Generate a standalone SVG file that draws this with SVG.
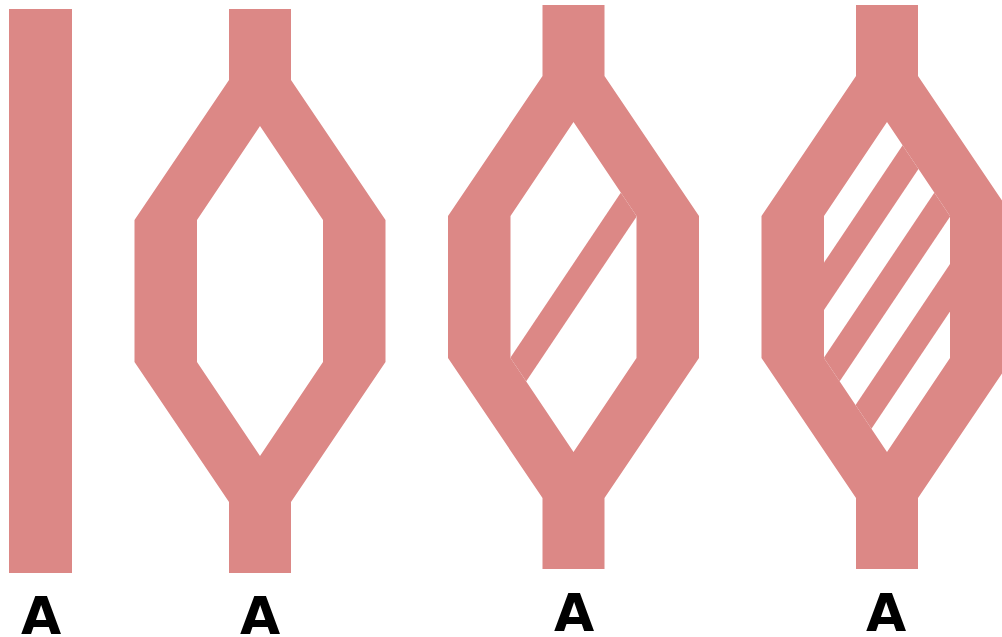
<svg xmlns="http://www.w3.org/2000/svg" width="1002" height="637" viewBox="0 0 1002 637">
  <style>
    .body { fill: #DC8886; fill-rule: evenodd; stroke: none; }
    .label { font-family: "DejaVu Sans", "Liberation Sans", sans-serif; font-weight: bold; font-size: 52px; fill: #000000; text-anchor: middle; }
  </style>
  <defs>
    <clipPath id="hole3">
      <polygon points="573.5,122 636.5,216 636.5,358 573.5,452 510.5,358 510.5,216"/>
    </clipPath>
    <clipPath id="hole4">
      <polygon points="887,122 950,216 950,358 887,452 824,358 824,216"/>
    </clipPath>
  </defs>
  <rect width="1002" height="637" fill="#FFFFFF"/>

  <g id="node1">
    <rect class="body" x="9" y="9" width="63" height="564"/>
    <text class="label" x="41" y="634">A</text>
  </g>

  <g id="node2">
    <path class="body" d="M229,9 L291,9 L291,80 L385.5,220 L385.5,362 L291,502 L291,573 L229,573 L229,502 L134.5,362 L134.5,220 L229,80 Z M260,126 L197,220 L197,362 L260,456 L323,362 L323,220 Z"/>
    <text class="label" x="260" y="634">A</text>
  </g>

  <g id="node3">
    <path class="body" d="M542.5,5 L604.5,5 L604.5,76 L699,216 L699,358 L604.5,498 L604.5,569 L542.5,569 L542.5,498 L448,358 L448,216 L542.5,76 Z M573.5,122 L510.5,216 L510.5,358 L573.5,452 L636.5,358 L636.5,216 Z"/>
    <g clip-path="url(#hole3)">
      <polygon class="body" points="682.95,100 714.7,100 460.1,480 428.35,480"/>
    </g>
    <text class="label" x="574" y="631">A</text>
  </g>

  <g id="node4">
    <path class="body" d="M856,5 L918,5 L918,76 L1012.5,216 L1012.5,358 L918,498 L918,569 L856,569 L856,498 L761.5,358 L761.5,216 L856,76 Z M887,122 L824,216 L824,358 L887,452 L950,358 L950,216 Z"/>
    <g clip-path="url(#hole4)">
      <polygon class="body" points="932.95,100 964.7,100 710.1,480 678.35,480"/>
      <polygon class="body" points="996.45,100 1028.2,100 773.6,480 741.85,480"/>
      <polygon class="body" points="1059.95,100 1091.7,100 837.1,480 805.35,480"/>
    </g>
    <text class="label" x="886" y="631">A</text>
  </g>

  <g id="connectors"></g>
</svg>
